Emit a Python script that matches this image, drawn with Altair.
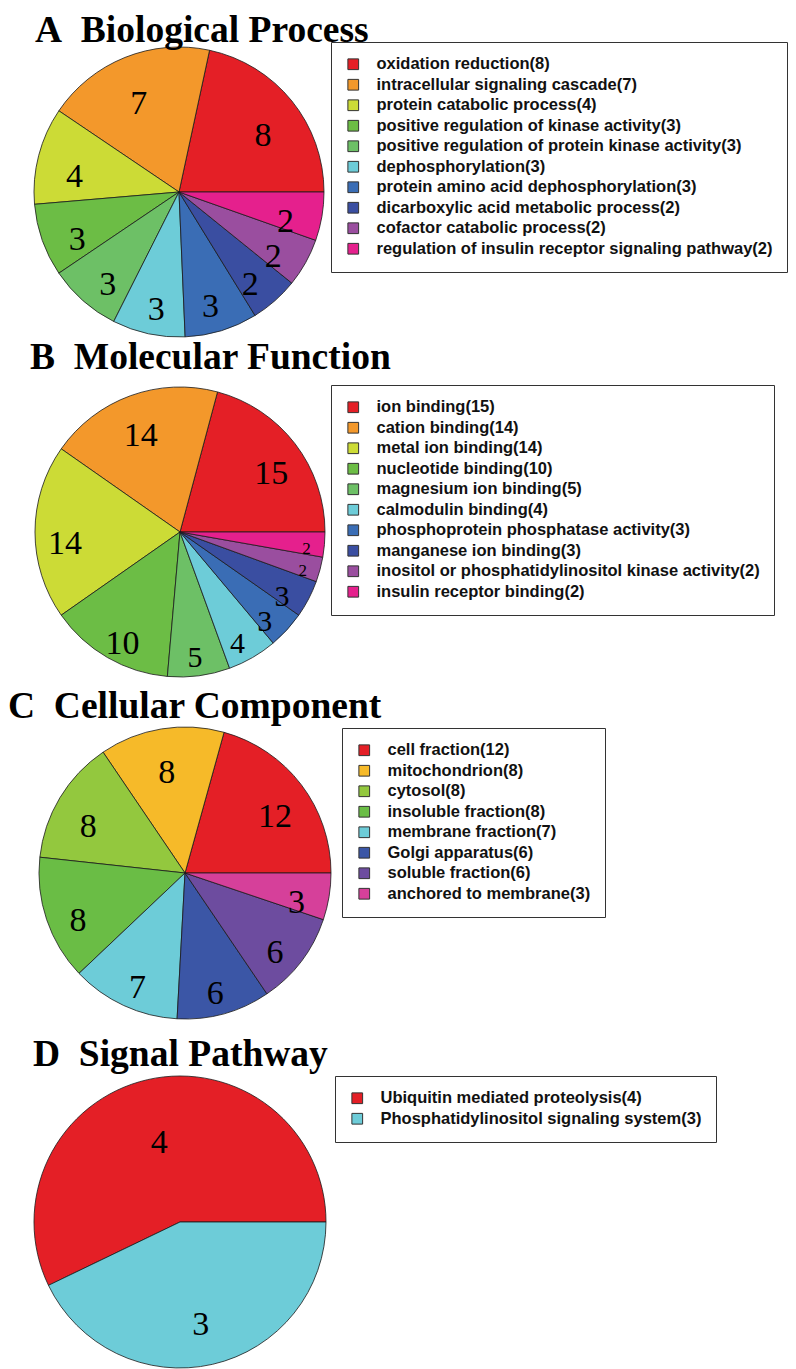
import math
import altair as alt
import pandas as pd

# ---------------- data ----------------
bp_title = "A\u00a0\u00a0Biological Process"
bp_terms = ["oxidation reduction", "intracellular signaling cascade", "protein catabolic process",
            "positive regulation of kinase activity", "positive regulation of protein kinase activity",
            "dephosphorylation", "protein amino acid dephosphorylation",
            "dicarboxylic acid metabolic process", "cofactor catabolic process",
            "regulation of insulin receptor signaling pathway"]
bp_counts = [8, 7, 4, 3, 3, 3, 3, 2, 2, 2]
bp_colors = ["#E41F26", "#F3982B", "#CCDB36", "#6CBD45", "#6DC066", "#6DCCD8",
             "#3A6DB5", "#3A4EA1", "#9A4E9F", "#E5208D"]

mf_title = "B\u00a0\u00a0Molecular Function"
mf_terms = ["ion binding", "cation binding", "metal ion binding", "nucleotide binding",
            "magnesium ion binding", "calmodulin binding", "phosphoprotein phosphatase activity",
            "manganese ion binding", "inositol or phosphatidylinositol kinase activity",
            "insulin receptor binding"]
mf_counts = [15, 14, 14, 10, 5, 4, 3, 3, 2, 2]
mf_colors = bp_colors

cc_title = "C\u00a0\u00a0Cellular Component"
cc_terms = ["cell fraction", "mitochondrion", "cytosol", "insoluble fraction",
            "membrane fraction", "Golgi apparatus", "soluble fraction", "anchored to membrane"]
cc_counts = [12, 8, 8, 8, 7, 6, 6, 3]
cc_colors = ["#E41F26", "#F6BA29", "#93C83E", "#6ABD45", "#6DCCD8", "#3B56A6", "#6D4C9F", "#D6409A"]

sp_title = "D\u00a0\u00a0Signal Pathway"
sp_terms = ["Ubiquitin mediated proteolysis", "Phosphatidylinositol signaling system"]
sp_counts = [4, 3]
sp_colors = ["#E41F26", "#6DCCD8"]

THETA_RANGE = [2.5 * math.pi, 0.5 * math.pi]  # start at 3 o'clock, counter-clockwise


def panel(terms, counts, colors, cx, cy, R, r_lab, lx, ly, shrink=False):
    total = sum(counts)
    labels = [f"{t}({c})" for t, c in zip(terms, counts)]
    sizes, big, small = [], [], []
    for c in counts:
        deg = c / total * 360
        if deg < 12:
            fs = 17
        elif shrink and deg < 27:
            fs = 30
        else:
            fs = 34
        sizes.append(fs)
        big.append(str(c) if fs >= 20 else "")
        small.append(str(c) if fs < 20 else "")
    df = pd.DataFrame({"idx": list(range(len(counts))), "label": labels, "value": counts,
                       "fs": sizes, "big": big, "small": small})
    base = alt.Chart(df).encode(
        theta=alt.Theta("value:Q", stack=True, scale=alt.Scale(range=THETA_RANGE)),
        order=alt.Order("idx:Q", sort="ascending"),
        x=alt.value(cx), y=alt.value(cy),
    )
    arc = base.mark_arc(radius=R, stroke="#1a1a1a", strokeWidth=0.8).encode(
        color=alt.Color("label:N", sort=labels,
                        scale=alt.Scale(domain=labels, range=colors),
                        legend=alt.Legend(title=None, orient="none", legendX=lx, legendY=ly)),
    )
    t_big = base.mark_text(radius=r_lab, dy=12, font="Liberation Serif", color="black").encode(
        text="big:N", size=alt.Size("fs:Q", scale=None))
    t_small = base.mark_text(radius=r_lab + 12, dy=6, fontSize=17, font="Liberation Serif",
                             color="black").encode(text="small:N")
    return alt.layer(arc, t_big, t_small)


def title(text, x, y):
    return alt.Chart(pd.DataFrame({"t": [text]})).mark_text(
        font="Liberation Serif", fontWeight="bold", fontSize=37.5, align="left",
        baseline="alphabetic", color="black").encode(x=alt.value(x), y=alt.value(y), text="t:N")


pA = panel(bp_terms, bp_counts, bp_colors, 171, 184, 145, 108, 323, 34)
pB = panel(mf_terms, mf_counts, mf_colors, 172, 524, 145, 115, 323, 377, shrink=True)
pC = panel(cc_terms, cc_counts, cc_colors, 177, 865, 146, 113, 334, 720)
pD = panel(sp_terms, sp_counts, sp_colors, 172, 1214, 146, 93, 327, 1068)

chart = alt.layer(
    pA, pB, pC, pD,
    title(bp_title, 27, 34), title(mf_title, 22, 361),
    title(cc_title, 0, 710), title(sp_title, 25, 1058),
).resolve_scale(
    theta="independent", color="independent"
).properties(
    width=780, height=1361, padding=0, autosize=alt.AutoSizeParams(type="none")
).configure_view(
    strokeWidth=0
).configure_legend(
    symbolType="square", symbolSize=115, symbolStrokeColor="#333333", symbolStrokeWidth=1,
    labelFont="Liberation Sans", labelFontWeight="bold", labelFontSize=16.5, labelColor="#111111",
    labelLimit=700, labelOffset=15, rowPadding=3.5, padding=14,
    strokeColor="#333333", fillColor="white", cornerRadius=0,
)

chart.save("out.html", embed_options={"renderer": "svg", "actions": False})
